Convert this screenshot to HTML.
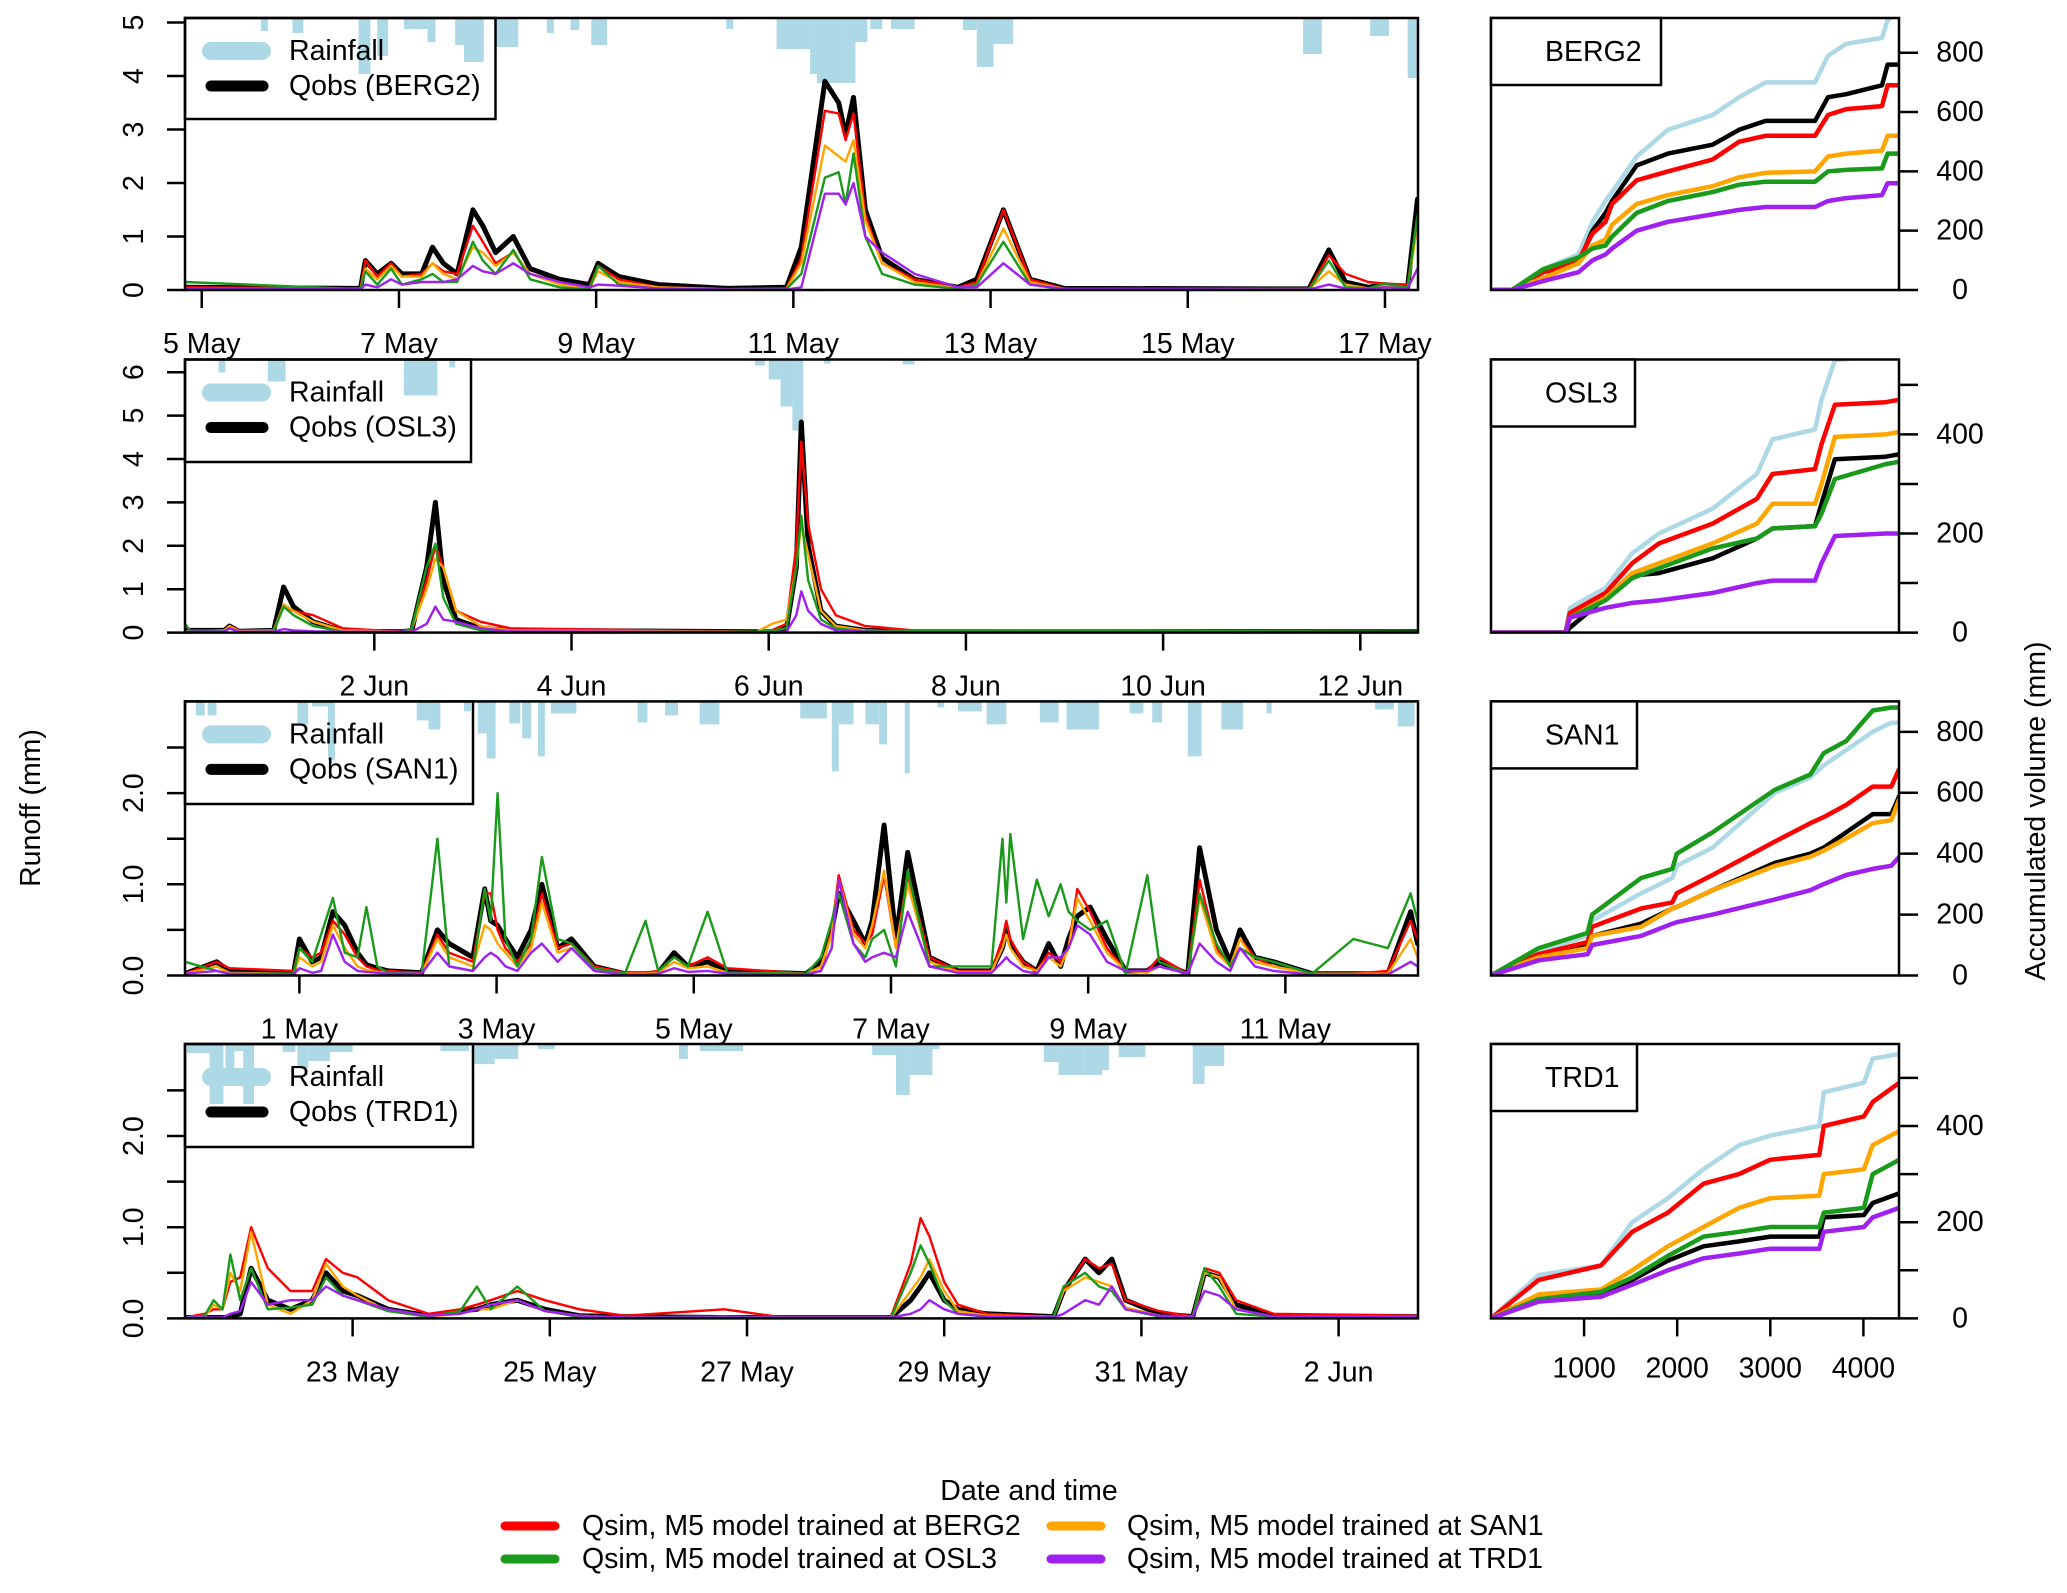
<!DOCTYPE html>
<html><head><meta charset="utf-8"><title>Runoff simulation</title>
<style>
html,body{margin:0;padding:0;background:#fff;}
svg{display:block;font-family:"Liberation Sans",Arial,sans-serif;}
</style></head>
<body>
<svg id="chart" width="2067" height="1593" viewBox="0 0 2067 1593" xmlns="http://www.w3.org/2000/svg">
<rect x="0" y="0" width="2067" height="1593" fill="#fff"/>
<text x="31" y="808" transform="rotate(-90 31 808)" text-anchor="middle" dominant-baseline="central" font-size="28.5">Runoff (mm)</text>
<text x="2036" y="811" transform="rotate(-90 2036 811)" text-anchor="middle" dominant-baseline="central" font-size="28.5">Accumulated volume (mm)</text>
<text x="1029" y="1491" text-anchor="middle" dominant-baseline="central" font-size="28.5">Date and time</text>
<g>
<line x1="505" y1="1526" x2="555" y2="1526" stroke="#ff0000" stroke-width="9" stroke-linecap="round"/>
<text x="582" y="1526" dominant-baseline="central" font-size="28.5">Qsim, M5 model trained at BERG2</text>
<line x1="505" y1="1559" x2="555" y2="1559" stroke="#1a9a1a" stroke-width="9" stroke-linecap="round"/>
<text x="582" y="1559" dominant-baseline="central" font-size="28.5">Qsim, M5 model trained at OSL3</text>
<line x1="1051" y1="1526" x2="1101" y2="1526" stroke="#ffa500" stroke-width="9" stroke-linecap="round"/>
<text x="1127" y="1526" dominant-baseline="central" font-size="28.5">Qsim, M5 model trained at SAN1</text>
<line x1="1051" y1="1559" x2="1101" y2="1559" stroke="#a020f0" stroke-width="9" stroke-linecap="round"/>
<text x="1127" y="1559" dominant-baseline="central" font-size="28.5">Qsim, M5 model trained at TRD1</text>
</g>
</svg>
<script>
// ---------- Panel 1 (BERG2) hydrograph data, t in days from panel left edge ----------
const p1Times = [0,1.7,1.78,1.83,1.95,2.09,2.2,2.4,2.51,2.62,2.76,2.92,3.02,3.15,3.33,3.5,3.8,4.1,4.19,4.4,4.8,5.5,6.1,6.25,6.49,6.63,6.7,6.78,6.9,7.07,7.4,7.84,8.03,8.3,8.57,8.92,11.4,11.6,11.77,12.0,12.16,12.4,12.5];
const p1Obs = [0.05,0.03,0.03,0.55,0.3,0.5,0.3,0.3,0.8,0.5,0.3,1.5,1.2,0.7,1.0,0.4,0.2,0.1,0.5,0.25,0.1,0.03,0.05,0.8,3.9,3.5,2.9,3.6,1.5,0.6,0.2,0.05,0.2,1.5,0.2,0.03,0.02,0.75,0.15,0.05,0.1,0.05,1.7];
const p1Red = [0.05,0.03,0.03,0.55,0.25,0.5,0.25,0.3,0.5,0.35,0.3,1.2,0.9,0.5,0.7,0.3,0.15,0.05,0.45,0.2,0.05,0.02,0.03,0.6,3.35,3.3,2.8,3.3,1.4,0.5,0.2,0.05,0.15,1.5,0.2,0.02,0.02,0.65,0.3,0.15,0.12,0.1,1.3];
const p1Orange = [0.02,0.02,0.02,0.4,0.2,0.45,0.25,0.25,0.5,0.3,0.2,0.8,0.7,0.45,0.7,0.3,0.1,0.03,0.35,0.15,0.05,0.01,0.02,0.5,2.7,2.5,2.4,2.8,1.3,0.5,0.15,0.03,0.1,1.15,0.15,0.02,0.02,0.35,0.1,0.03,0.08,0.05,1.2];
const p1Green = [0.15,0.02,0.02,0.35,0.1,0.4,0.1,0.2,0.3,0.15,0.15,0.9,0.55,0.3,0.75,0.2,0.05,0.01,0.45,0.1,0.02,0.01,0.02,0.3,2.1,2.2,1.6,2.55,1.0,0.3,0.1,0.02,0.1,0.9,0.1,0.01,0.01,0.55,0.05,0.03,0.12,0.05,1.4];
const p1Purple = [0.02,0.02,0.02,0.1,0.05,0.2,0.1,0.15,0.15,0.15,0.2,0.45,0.35,0.3,0.5,0.3,0.15,0.05,0.1,0.08,0.03,0.01,0.01,0.05,1.8,1.8,1.6,2.0,1.0,0.7,0.3,0.05,0.05,0.5,0.1,0.02,0.01,0.1,0.03,0.02,0.05,0.03,0.4];
const p1RainStart = [0.77,1.09,1.76,1.95,2.22,2.46,2.74,2.83,3.14,3.67,3.91,4.12,5.49,6.0,6.34,6.41,6.72,6.8,6.95,7.16,7.89,8.03,8.2,11.34,12.02,12.4];
const p1RainEnd = [0.84,1.2,1.88,2.06,2.46,2.54,2.83,3.03,3.38,3.74,4.0,4.28,5.56,6.34,6.41,6.72,6.8,6.92,7.07,7.4,8.03,8.2,8.4,11.53,12.21,12.5];
const p1Rain = [1.3,1.5,5.6,3.8,1.1,2.4,2.7,4.4,2.9,1.5,1.2,2.7,1.1,3.1,5.6,6.5,6.5,2.4,1.1,1.1,1.2,4.9,2.6,3.6,1.8,6.0];
const p1TickLabels = ["5 May","7 May","9 May","11 May","13 May","15 May","17 May"];
const p1YTicks = [0,1,2,3,4,5];

// ---------- Panel 2 (OSL3) ----------
const p2Times = [0,0.05,0.4,0.45,0.55,0.9,1.0,1.1,1.3,1.6,2.2,2.3,2.45,2.54,2.62,2.75,3.0,3.3,5.8,5.95,6.1,6.2,6.25,6.32,6.45,6.6,6.9,7.4,12.5];
const p2Obs = [0.05,0.05,0.05,0.15,0.03,0.05,1.05,0.6,0.25,0.03,0.02,0.05,1.5,3.0,1.2,0.3,0.1,0.05,0.02,0.02,0.1,1.5,4.85,2.0,0.5,0.15,0.05,0.02,0.02];
const p2Red = [0.03,0.03,0.05,0.15,0.05,0.05,0.6,0.5,0.4,0.1,0.02,0.05,1.2,2.0,1.5,0.5,0.25,0.1,0.02,0.05,0.2,2.0,4.4,2.5,1.0,0.4,0.15,0.05,0.02];
const p2Orange = [0.03,0.03,0.05,0.15,0.03,0.05,0.65,0.5,0.25,0.05,0.02,0.1,1.0,1.7,1.5,0.5,0.15,0.05,0.02,0.2,0.3,1.5,2.5,1.8,0.5,0.15,0.05,0.02,0.02];
const p2Green = [0.2,0.05,0.03,0.1,0.02,0.03,0.6,0.4,0.15,0.02,0.02,0.1,1.5,2.05,0.8,0.2,0.05,0.02,0.02,0.05,0.1,1.5,2.7,1.2,0.3,0.1,0.03,0.05,0.02];
const p2Purple = [0.02,0.02,0.02,0.1,0.02,0.02,0.08,0.05,0.03,0.02,0.02,0.02,0.2,0.6,0.3,0.25,0.1,0.03,0.01,0.01,0.02,0.4,0.95,0.5,0.2,0.05,0.02,0.01,0.01];
const p2RainStart = [0.34,0.84,2.22,2.68,5.78,5.92,6.04,6.16,6.48,7.28];
const p2RainEnd = [0.41,1.02,2.56,2.74,5.88,6.04,6.16,6.27,6.55,7.4];
const p2Rain = [1.3,2.2,3.6,0.8,0.6,2.0,4.7,7.1,0.4,0.5];
const p2TickLabels = ["2 Jun","4 Jun","6 Jun","8 Jun","10 Jun","12 Jun"];
const p2YTicks = [0,1,2,3,4,5,6];

// ---------- Panel 3 (SAN1) ----------
const p3Times = [0,0.32,0.45,1.1,1.16,1.29,1.38,1.5,1.62,1.75,1.84,1.95,2.06,2.4,2.56,2.68,2.92,3.04,3.1,3.17,3.25,3.37,3.51,3.62,3.78,3.92,4.15,4.46,4.67,4.8,4.96,5.1,5.3,5.5,6.3,6.45,6.56,6.63,6.78,6.9,6.97,7.09,7.21,7.33,7.55,7.84,8.18,8.29,8.33,8.37,8.5,8.64,8.76,8.88,8.96,9.05,9.18,9.35,9.54,9.76,9.88,10.17,10.29,10.46,10.6,10.7,10.85,11.04,11.43,11.85,12.2,12.43,12.5];
const p3Obs = [0.02,0.15,0.05,0.02,0.4,0.15,0.2,0.7,0.55,0.25,0.12,0.08,0.05,0.03,0.5,0.35,0.2,0.95,0.6,0.55,0.4,0.2,0.5,1.0,0.3,0.4,0.1,0.02,0.02,0.03,0.25,0.1,0.15,0.05,0.02,0.15,0.5,0.9,0.6,0.35,0.6,1.65,0.4,1.35,0.2,0.05,0.05,0.3,0.5,0.35,0.15,0.05,0.35,0.1,0.4,0.65,0.75,0.4,0.05,0.05,0.15,0.02,1.4,0.5,0.15,0.5,0.2,0.15,0.02,0.02,0.02,0.7,0.35];
const p3Red = [0.02,0.15,0.08,0.05,0.3,0.2,0.25,0.6,0.45,0.2,0.1,0.06,0.05,0.03,0.45,0.25,0.15,0.9,0.9,0.5,0.3,0.15,0.35,0.9,0.3,0.35,0.1,0.03,0.03,0.05,0.2,0.1,0.2,0.08,0.02,0.05,0.5,1.1,0.5,0.35,0.45,1.1,0.3,1.1,0.2,0.05,0.05,0.4,0.6,0.4,0.15,0.05,0.25,0.15,0.3,0.95,0.7,0.3,0.05,0.05,0.2,0.02,1.05,0.3,0.1,0.4,0.2,0.1,0.02,0.02,0.05,0.6,0.4];
const p3Orange = [0.02,0.1,0.03,0.02,0.2,0.1,0.15,0.55,0.3,0.1,0.06,0.04,0.03,0.02,0.4,0.2,0.1,0.55,0.5,0.35,0.25,0.1,0.3,0.8,0.25,0.3,0.08,0.02,0.02,0.03,0.15,0.08,0.1,0.03,0.02,0.1,0.45,1.05,0.45,0.3,0.55,1.15,0.3,1.0,0.15,0.04,0.04,0.3,0.45,0.3,0.1,0.05,0.2,0.1,0.3,0.85,0.6,0.25,0.05,0.03,0.1,0.02,0.85,0.25,0.1,0.4,0.15,0.1,0.02,0.02,0.02,0.4,0.2];
const p3Green = [0.15,0.05,0.02,0.02,0.3,0.15,0.45,0.85,0.25,0.2,0.75,0.1,0.03,0.02,1.5,0.1,0.05,0.95,0.6,2.0,0.4,0.1,0.4,1.3,0.4,0.35,0.08,0.02,0.6,0.05,0.2,0.1,0.7,0.03,0.02,0.2,0.6,0.9,0.35,0.2,0.4,0.5,0.1,1.15,0.1,0.1,0.1,1.5,0.8,1.55,0.4,1.05,0.65,1.0,0.7,0.6,0.5,0.6,0.02,1.1,0.15,0.02,0.9,0.35,0.1,0.3,0.2,0.15,0.02,0.4,0.3,0.9,0.6];
const p3Purple = [0.02,0.05,0.02,0.01,0.08,0.03,0.05,0.45,0.15,0.05,0.04,0.03,0.02,0.02,0.25,0.1,0.05,0.2,0.25,0.2,0.1,0.05,0.25,0.35,0.15,0.3,0.05,0.01,0.01,0.02,0.08,0.04,0.05,0.02,0.01,0.05,0.3,1.05,0.35,0.15,0.2,0.25,0.2,0.7,0.1,0.03,0.03,0.15,0.2,0.15,0.05,0.02,0.2,0.2,0.3,0.55,0.45,0.15,0.05,0.05,0.1,0.02,0.35,0.15,0.05,0.3,0.1,0.05,0.01,0.01,0.01,0.15,0.1];
const p3RainStart = [0.11,0.23,1.14,1.29,1.45,2.35,2.47,2.83,2.97,3.06,3.29,3.42,3.58,3.71,4.59,4.87,5.22,6.24,6.56,6.63,6.9,7.04,7.3,7.63,7.84,8.13,8.67,8.94,9.58,9.81,10.17,10.51,10.97,12.07,12.3];
const p3RainEnd = [0.2,0.32,1.25,1.45,1.52,2.47,2.59,2.9,3.06,3.15,3.4,3.51,3.65,3.97,4.69,5.0,5.42,6.51,6.63,6.78,7.04,7.12,7.35,7.7,8.08,8.33,8.86,9.27,9.72,9.91,10.31,10.73,11.02,12.26,12.47];
const p3Rain = [1.4,1.4,2.3,0.5,5.9,1.9,2.8,1.0,3.2,5.7,2.2,3.7,5.5,1.2,2.1,1.4,2.3,1.7,7.0,2.3,2.3,4.3,7.2,0.6,1.0,2.3,2.1,2.8,1.2,2.1,5.5,2.8,1.2,0.8,2.5];
const p3TickLabels = ["1 May","3 May","5 May","7 May","9 May","11 May"];
const p3YTicks = [0,0.5,1,1.5,2,2.5];

// ---------- Panel 4 (TRD1) ----------
const p4Times = [0,0.2,0.29,0.38,0.46,0.56,0.67,0.84,1.07,1.29,1.43,1.6,1.75,2.06,2.47,2.79,2.96,3.1,3.37,3.65,4.0,4.46,5.47,6.0,7.16,7.36,7.46,7.55,7.7,7.84,8.13,8.81,8.91,9.13,9.27,9.4,9.54,9.88,10.22,10.34,10.49,10.66,11.04,12.5];
const p4Obs = [0.01,0.01,0.01,0.01,0.01,0.05,0.55,0.2,0.1,0.2,0.5,0.3,0.25,0.1,0.03,0.08,0.1,0.15,0.2,0.1,0.03,0.02,0.01,0.01,0.01,0.2,0.35,0.5,0.2,0.1,0.05,0.02,0.3,0.65,0.5,0.65,0.2,0.05,0.02,0.5,0.45,0.15,0.03,0.02];
const p4Red = [0.01,0.05,0.1,0.1,0.4,0.45,1.0,0.55,0.3,0.3,0.65,0.5,0.45,0.2,0.05,0.1,0.15,0.2,0.3,0.2,0.1,0.03,0.1,0.02,0.02,0.6,1.1,0.9,0.4,0.15,0.05,0.02,0.3,0.65,0.55,0.6,0.2,0.08,0.02,0.55,0.5,0.2,0.05,0.03];
const p4Orange = [0.01,0.02,0.15,0.1,0.5,0.3,0.95,0.15,0.05,0.2,0.6,0.35,0.25,0.08,0.02,0.05,0.1,0.1,0.2,0.08,0.03,0.01,0.02,0.01,0.01,0.3,0.45,0.65,0.3,0.08,0.03,0.02,0.3,0.45,0.4,0.35,0.12,0.03,0.02,0.5,0.45,0.1,0.02,0.02];
const p4Green = [0.01,0.03,0.2,0.1,0.7,0.2,0.55,0.1,0.12,0.15,0.45,0.25,0.2,0.08,0.02,0.08,0.35,0.1,0.35,0.08,0.02,0.01,0.02,0.01,0.01,0.5,0.8,0.6,0.2,0.05,0.02,0.02,0.35,0.5,0.35,0.3,0.1,0.02,0.02,0.55,0.35,0.05,0.02,0.02];
const p4Purple = [0.01,0.01,0.01,0.01,0.05,0.08,0.4,0.15,0.2,0.2,0.35,0.25,0.2,0.1,0.03,0.05,0.1,0.15,0.2,0.08,0.03,0.01,0.01,0.01,0.01,0.05,0.1,0.2,0.1,0.05,0.02,0.01,0.05,0.2,0.15,0.35,0.1,0.03,0.02,0.3,0.25,0.1,0.02,0.02];
const p4RainStart = [0.02,0.25,0.41,0.5,0.59,0.99,1.14,1.25,1.47,2.59,2.92,3.14,3.58,5.01,5.22,6.97,7.21,7.35,7.58,8.71,8.86,9.11,9.3,9.47,10.22,10.34];
const p4RainEnd = [0.25,0.39,0.5,0.59,0.7,1.12,1.25,1.47,1.7,2.88,3.14,3.38,3.75,5.1,5.66,7.21,7.35,7.58,7.65,8.86,9.11,9.3,9.37,9.74,10.34,10.54];
const p4Rain = [0.9,6.0,3.3,0.7,6.0,0.8,2.4,1.7,0.8,0.7,2.0,1.5,0.5,1.5,0.7,1.1,5.1,3.1,0.5,1.8,3.1,3.1,2.6,1.3,4.0,2.2];
const p4TickLabels = ["23 May","25 May","27 May","29 May","31 May","2 Jun"];
const p4YTicks = [0,0.5,1,1.5,2,2.5];

// ---------- Accumulated volume panels (x = time step index) ----------
const c1X = [0,225,560,940,1090,1230,1300,1565,1900,2380,2665,2950,3480,3620,3815,4200,4260,4387];
const c1Rain = [0,0,70,120,230,300,330,450,540,590,650,700,700,790,830,850,910,940];
const c1Obs = [0,0,60,90,200,260,300,420,460,490,540,570,570,650,660,690,760,760];
const c1Red = [0,0,60,100,190,230,290,370,400,440,500,520,520,590,610,620,690,690];
const c1Orange = [0,0,40,90,150,170,220,290,320,350,380,395,400,450,460,470,520,520];
const c1Green = [0,0,70,110,140,150,180,260,300,330,355,365,365,400,405,410,460,460];
const c1Purple = [0,0,30,60,100,120,140,200,230,255,270,280,280,300,310,320,360,360];

const c2X = [0,800,847,1230,1517,1804,2380,2856,3024,3480,3550,3694,4240,4387];
const c2Rain = [0,0,50,90,160,200,250,320,390,410,470,550,560,560];
const c2Obs = [0,0,10,70,115,120,150,190,210,215,260,350,355,360];
const c2Red = [0,0,40,80,140,180,220,270,320,330,380,460,465,470];
const c2Orange = [0,0,30,70,120,140,180,220,260,260,300,395,400,405];
const c2Green = [0,0,30,65,110,130,170,190,210,215,240,310,340,345];
const c2Purple = [0,0,30,50,60,65,80,100,105,105,140,195,200,200];

const c3X = [0,512,1038,1086,1612,1947,1995,2380,3050,3430,3575,3815,4100,4300,4387];
const c3Rain = [0,80,130,180,270,320,360,420,600,650,690,740,800,830,830];
const c3Obs = [0,70,100,130,170,220,225,280,370,400,420,470,530,530,590];
const c3Red = [0,70,110,160,220,240,270,330,440,500,520,560,620,620,680];
const c3Orange = [0,60,90,130,160,220,225,280,360,390,410,450,500,510,580];
const c3Green = [0,90,140,200,320,350,400,470,610,660,730,770,870,880,880];
const c3Purple = [0,50,70,100,130,170,175,200,250,280,300,330,350,360,390];

const c4X = [0,512,1182,1517,1900,2283,2665,3000,3526,3575,4005,4100,4387];
const c4Rain = [0,90,110,200,250,310,360,380,400,470,490,540,550];
const c4Obs = [0,40,50,80,120,150,160,170,170,210,215,240,260];
const c4Red = [0,80,110,180,220,280,300,330,340,400,420,450,490];
const c4Orange = [0,50,60,100,150,190,230,250,255,300,310,360,390];
const c4Green = [0,40,55,85,130,170,180,190,190,220,230,300,330];
const c4Purple = [0,35,45,70,100,125,135,145,145,180,190,210,230];

const accTicks1 = [0,200,400,600,800];
const accTicks2 = [0,100,200,300,400,500];
const accTicks3 = [0,200,400,600,800];
const accTicks4 = [0,100,200,300,400,500];
const accXTicks = [1000,2000,3000,4000];

// ---------- drawing ----------
const NS = "http://www.w3.org/2000/svg";
const svg = document.getElementById("chart");
const FS = 28.5;
function mk(tag, attrs, parent) {
  const el = document.createElementNS(NS, tag);
  for (const k in attrs) el.setAttribute(k, attrs[k]);
  (parent || svg).appendChild(el);
  return el;
}
const COL = {obs:"#000000", red:"#ff0000", orange:"#ffa500", green:"#1a9a1a", purple:"#a020f0", rain:"#add8e6"};
const LX0 = 185, LX1 = 1418, DAYPX = 98.6;
const RX0 = 1491, RX1 = 1899, ACCXK = 0.0931;

const panels = [
  {key:"berg2", name:"BERG2", top:18, y0:290, k:53.5, firstTick:0.17, labels:p1TickLabels, yticks:p1YTicks, ylabFmt:v=>String(v), ylabEvery:1,
   t:p1Times, series:[["obs",p1Obs],["red",p1Red],["orange",p1Orange],["green",p1Green],["purple",p1Purple]],
   rs:p1RainStart, re:p1RainEnd, rv:p1Rain, legR:495.5, legB:119,
   cx:c1X, cs:[["rain",c1Rain],["obs",c1Obs],["red",c1Red],["orange",c1Orange],["green",c1Green],["purple",c1Purple]], ck:0.2966, cticks:accTicks1, clabEvery:1, cLegR:1661},
  {key:"osl3", name:"OSL3", top:359.5, y0:632.6, k:43.4, firstTick:1.92, labels:p2TickLabels, yticks:p2YTicks, ylabFmt:v=>String(v), ylabEvery:1,
   t:p2Times, series:[["obs",p2Obs],["red",p2Red],["orange",p2Orange],["green",p2Green],["purple",p2Purple]],
   rs:p2RainStart, re:p2RainEnd, rv:p2Rain, legR:471, legB:462,
   cx:c2X, cs:[["rain",c2Rain],["obs",c2Obs],["red",c2Red],["orange",c2Orange],["green",c2Green],["purple",c2Purple]], ck:0.4955, cticks:accTicks2, clabEvery:2, cLegR:1635},
  {key:"san1", name:"SAN1", top:701.4, y0:975.5, k:91.2, firstTick:1.16, labels:p3TickLabels, yticks:p3YTicks, ylabFmt:v=>v.toFixed(1), ylabEvery:2,
   t:p3Times, series:[["obs",p3Obs],["red",p3Red],["orange",p3Orange],["green",p3Green],["purple",p3Purple]],
   rs:p3RainStart, re:p3RainEnd, rv:p3Rain, legR:473, legB:804,
   cx:c3X, cs:[["rain",c3Rain],["obs",c3Obs],["red",c3Red],["orange",c3Orange],["green",c3Green],["purple",c3Purple]], ck:0.3046, cticks:accTicks3, clabEvery:1, cLegR:1637},
  {key:"trd1", name:"TRD1", top:1044, y0:1318.4, k:91.2, firstTick:1.70, labels:p4TickLabels, yticks:p4YTicks, ylabFmt:v=>v.toFixed(1), ylabEvery:2,
   t:p4Times, series:[["obs",p4Obs],["red",p4Red],["orange",p4Orange],["green",p4Green],["purple",p4Purple]],
   rs:p4RainStart, re:p4RainEnd, rv:p4Rain, legR:473, legB:1147,
   cx:c4X, cs:[["rain",c4Rain],["obs",c4Obs],["red",c4Red],["orange",c4Orange],["green",c4Green],["purple",c4Purple]], ck:0.481, cticks:accTicks4, clabEvery:2, cLegR:1637}
];

panels.forEach((p, pi) => {
  const xs = t => LX0 + t * DAYPX;
  const ys = v => p.y0 - v * p.k;
  const g = mk("g", {});
  
  
  const defs = mk("defs", {}, g);
  const cp = mk("clipPath", {id:"clipL" + pi}, defs);
  mk("rect", {x:LX0, y:p.top, width:LX1 - LX0, height:p.y0 - p.top}, cp);
  const cpR = mk("clipPath", {id:"clipR" + pi}, defs);
  mk("rect", {x:RX0, y:p.top, width:RX1 - RX0, height:p.y0 - p.top}, cpR);

  // rainfall bars
  const rg = mk("g", {"clip-path":"url(#clipL" + pi + ")"}, g);
  
  
  for (let i = 0; i < p.rv.length; i++) {
    const x1 = xs(p.rs[i]), x2 = xs(p.re[i]);
    const bar = mk("rect", {x:x1, y:p.top, width:Math.max(1, x2 - x1), height:p.rv[i] * 10, fill:COL.rain}, rg);
    
    
  }
  // series lines
  const lg = mk("g", {"clip-path":"url(#clipL" + pi + ")"}, g);
  p.series.forEach(([c, vals]) => {
    const n = Math.min(vals.length, p.t.length);
    let d = "";
    for (let i = 0; i < n; i++) d += (i ? "L" : "M") + xs(p.t[i]).toFixed(1) + "," + ys(vals[i]).toFixed(1);
    const path = mk("path", {d:d, fill:"none", stroke:COL[c], "stroke-width": c === "obs" ? 5 : 2.4, "stroke-linejoin":"round", "stroke-linecap":"round"}, lg);
    
    
  });
  // frame
  const fr = mk("rect", {x:LX0, y:p.top, width:LX1 - LX0, height:p.y0 - p.top, fill:"none", stroke:"#000", "stroke-width":2.5}, g);
  
  
  // y axis ticks
  p.yticks.forEach((v, i) => {
    const y = ys(v);
    const tk = mk("line", {x1:LX0 - 18, y1:y, x2:LX0, y2:y, stroke:"#000", "stroke-width":2.5}, g);
    
    
    if (i % p.ylabEvery === 0) {
      const tx = mk("text", {x:134, y:y, transform:"rotate(-90 134 " + y + ")", "text-anchor":"middle", "dominant-baseline":"central", "font-size":FS}, g);
      tx.textContent = p.ylabFmt(v);
      
      
    }
  });
  // x axis ticks
  p.labels.forEach((lab, i) => {
    const x = xs(p.firstTick + 2 * i);
    const tk = mk("line", {x1:x, y1:p.y0, x2:x, y2:p.y0 + 18, stroke:"#000", "stroke-width":2.5}, g);
    
    
    const tx = mk("text", {x:x, y:p.y0 + 54, "text-anchor":"middle", "dominant-baseline":"central", "font-size":FS}, g);
    tx.textContent = lab;
    
    
  });
  // legend box (transparent background, rain bars show through)
  const lgd = mk("g", {}, g);
  
  
  mk("rect", {x:LX0, y:p.top, width:p.legR - LX0, height:p.legB - p.top, fill:"none", stroke:"#000", "stroke-width":2.5}, lgd);
  const ry = p.top + 33, qy = p.top + 68;
  const rsw = mk("line", {x1:211, y1:ry, x2:262, y2:ry, stroke:COL.rain, "stroke-width":18, "stroke-linecap":"round"}, lgd);
  
  
  const rt = mk("text", {x:289, y:ry, "dominant-baseline":"central", "font-size":FS}, lgd);
  rt.textContent = "Rainfall";
  
  
  const qsw = mk("line", {x1:211, y1:qy, x2:263, y2:qy, stroke:"#000", "stroke-width":11, "stroke-linecap":"round"}, lgd);
  
  
  const qt = mk("text", {x:289, y:qy, "dominant-baseline":"central", "font-size":FS}, lgd);
  qt.textContent = "Qobs (" + p.name + ")";
  
  

  // ---------- accumulated volume panel ----------
  const ax = v => RX0 + v * ACCXK;
  const ay = v => p.y0 - v * p.ck;
  const ag = mk("g", {});
  
  
  const al = mk("g", {"clip-path":"url(#clipR" + pi + ")"}, ag);
  p.cs.forEach(([c, vals]) => {
    const n = Math.min(vals.length, p.cx.length);
    let d = "";
    for (let i = 0; i < n; i++) d += (i ? "L" : "M") + ax(p.cx[i]).toFixed(1) + "," + ay(vals[i]).toFixed(1);
    const path = mk("path", {d:d, fill:"none", stroke:COL[c], "stroke-width":4.5, "stroke-linejoin":"round"}, al);
    
    
  });
  const afr = mk("rect", {x:RX0, y:p.top, width:RX1 - RX0, height:p.y0 - p.top, fill:"none", stroke:"#000", "stroke-width":2.5}, ag);
  
  
  p.cticks.forEach((v, i) => {
    const y = ay(v);
    const tk = mk("line", {x1:RX1, y1:y, x2:RX1 + 19, y2:y, stroke:"#000", "stroke-width":2.5}, ag);
    
    
    if (i % p.clabEvery === 0) {
      const tx = mk("text", {x:1960, y:y, "text-anchor":"middle", "dominant-baseline":"central", "font-size":FS}, ag);
      tx.textContent = String(v);
      
      
    }
  });
  const lb = mk("rect", {x:RX0, y:p.top, width:p.cLegR - RX0, height:67, fill:"#fff", stroke:"#000", "stroke-width":2.5}, ag);
  
  
  const st = mk("text", {x:1545, y:p.top + 34, "dominant-baseline":"central", "font-size":FS}, ag);
  st.textContent = p.name;
  
  
  if (pi === 3) {
    accXTicks.forEach(v => {
      const x = ax(v);
      const tk = mk("line", {x1:x, y1:p.y0, x2:x, y2:p.y0 + 18, stroke:"#000", "stroke-width":2.5}, ag);
      
      
      const tx = mk("text", {x:x, y:p.y0 + 50, "text-anchor":"middle", "dominant-baseline":"central", "font-size":FS}, ag);
      tx.textContent = String(v);
      
      
    });
  }
});
</script>
</body></html>
